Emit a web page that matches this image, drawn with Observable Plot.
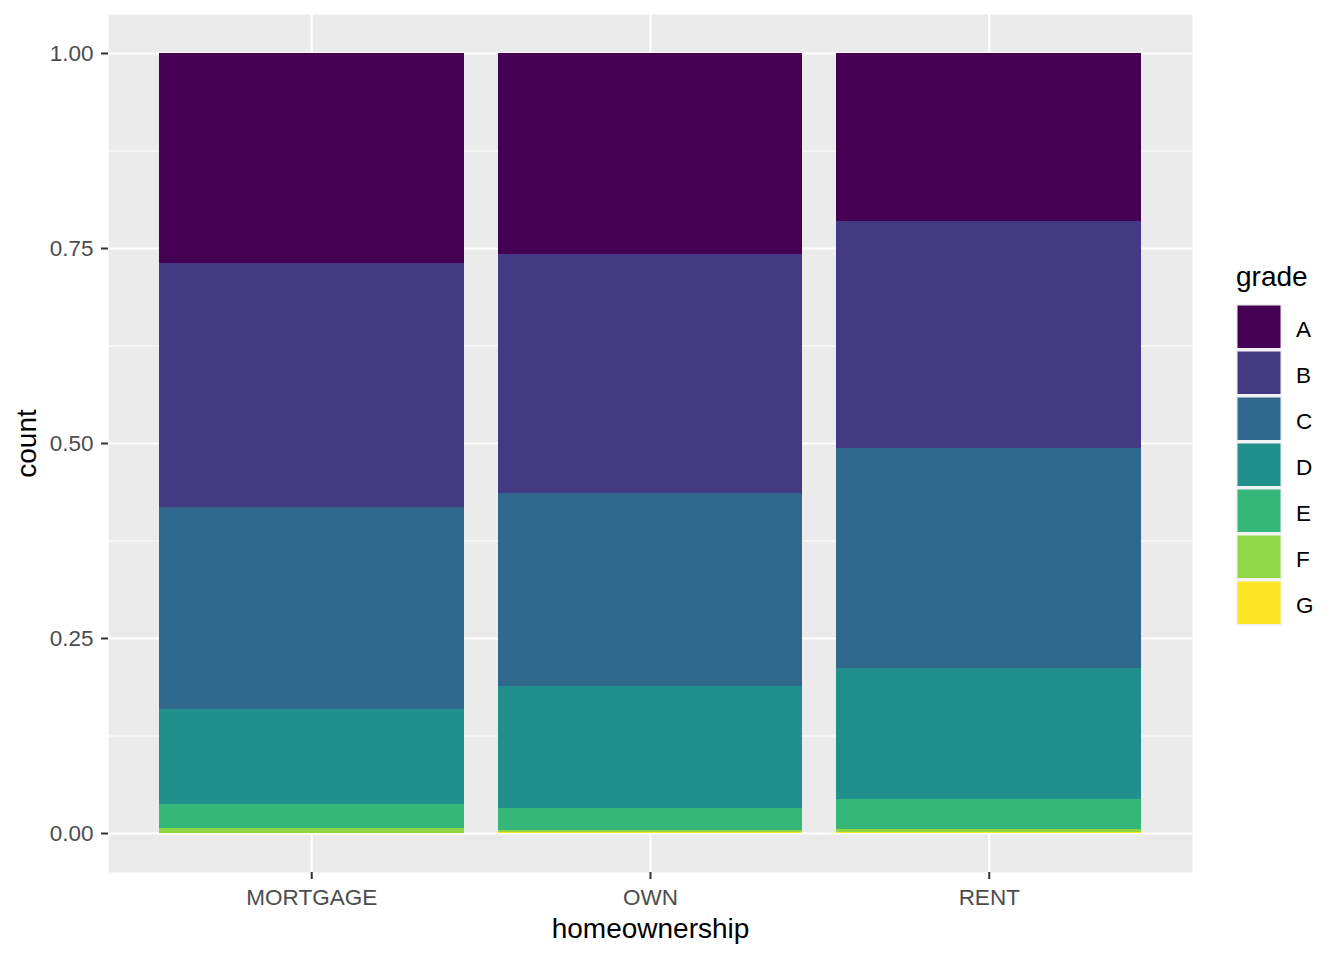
<!DOCTYPE html>
<html>
<head>
<meta charset="utf-8">
<script src="https://cdn.jsdelivr.net/npm/d3@7"></script>
<script src="https://cdn.jsdelivr.net/npm/@observablehq/plot@0.6"></script>
<style>
  html, body { margin: 0; padding: 0; background: #fff; }
  #chart svg { display: block; }
</style>
</head>
<body>
<div id="chart"></div>
<script>
// ---- data (proportions) ----
const homeownership = ["MORTGAGE", "OWN", "RENT"];
const grades = ["A", "B", "C", "D", "E", "F", "G"];
const gradeA = [0.2690, 0.2577, 0.2154];
const gradeB = [0.3130, 0.3060, 0.2910];
const gradeC = [0.2590, 0.2475, 0.2820];
const gradeD = [0.1218, 0.1564, 0.1680];
const gradeE = [0.0308, 0.0282, 0.0385];
const gradeF = [0.0065, 0.0029, 0.0047];
const gradeG = [0.0003, 0.0013, 0.0008];
const yTicks = [0, 0.25, 0.5, 0.75, 1];
const yMinorTicks = [0.125, 0.375, 0.625, 0.875];
const gradeColors = ["#440154", "#443A83", "#31688E", "#21908C", "#35B779", "#8FD744", "#FDE725"];

const seriesByGrade = [gradeA, gradeB, gradeC, gradeD, gradeE, gradeF, gradeG];
const rows = [];
grades.forEach((g, gi) => {
  homeownership.forEach((h, hi) => {
    rows.push({homeownership: h, grade: g, value: seriesByGrade[gi][hi]});
  });
});

const FONT = "'Liberation Sans', Arial, sans-serif";
const TICK_FS = 22.5, TITLE_FS = 28;
const W = 1344, H = 960;
const plot = Plot.plot({
  width: W,
  height: H,
  marginLeft: 108,
  marginRight: 152,
  marginTop: 14,
  marginBottom: 88,
  style: {fontFamily: FONT, fontSize: TICK_FS + "px", background: "#ffffff", overflow: "visible"},
  x: {domain: homeownership, paddingInner: 0.1, paddingOuter: 0.15, round: false, label: null},
  y: {domain: [-0.05, 1.05], label: null},
  color: {domain: grades, range: gradeColors},
  marks: [
    Plot.frame({fill: "#EBEBEB", stroke: null}),
    Plot.gridY(yMinorTicks, {stroke: "#ffffff", strokeOpacity: 1, strokeWidth: 1.1}),
    Plot.gridY(yTicks, {stroke: "#ffffff", strokeOpacity: 1, strokeWidth: 2.1}),
    Plot.gridX({stroke: "#ffffff", strokeOpacity: 1, strokeWidth: 2.1}),
    Plot.barY(rows, Plot.stackY({
      offset: "normalize",
      order: grades.slice().reverse(),
      x: "homeownership",
      y: "value",
      fill: "grade",
      shapeRendering: "crispEdges"
    })),
    Plot.axisY(yTicks, {tickFormat: d3.format(".2f"), tickSize: 7, tickPadding: 8, label: null, stroke: "#333333", strokeWidth: 2, fontSize: TICK_FS}),
    Plot.axisX({tickSize: 7, tickPadding: 10, label: null, stroke: "#333333", strokeWidth: 2, fontSize: TICK_FS}),
    Plot.text(["count"], {frameAnchor: "left", dx: -81, rotate: -90, textAnchor: "middle", fontSize: TITLE_FS, fill: "#000000"}),
    Plot.text(["homeownership"], {frameAnchor: "bottom", dy: 65, textAnchor: "middle", fontSize: TITLE_FS, fill: "#000000"})
  ]
});

document.getElementById("chart").appendChild(plot);

const svg = d3.select(plot.tagName.toLowerCase() === "svg" ? plot : plot.querySelector("svg"));
svg.selectAll('g[aria-label="x-axis tick label"], g[aria-label="y-axis tick label"]').attr("fill", "#4D4D4D");
svg.selectAll('g[aria-label="x-axis tick label"] text, g[aria-label="y-axis tick label"] text').attr("fill", "#4D4D4D");

// ---- legend (built from the colour scale) ----
const colorScale = plot.scale("color");
const lg = svg.append("g").attr("font-family", FONT).attr("text-anchor", "start");
const lx = 1236, ly = 304, key = 46;
lg.append("text").attr("x", lx).attr("y", 286).attr("font-size", TITLE_FS).attr("fill", "#000").text("grade");
lg.append("rect").attr("x", lx).attr("y", ly).attr("width", key).attr("height", key * colorScale.domain.length).attr("fill", "#F2F2F2");
colorScale.domain.forEach((g, i) => {
  lg.append("rect")
    .attr("x", lx + 1.5).attr("y", ly + 1.5 + i * key)
    .attr("width", key - 3).attr("height", key - 3.5)
    .attr("fill", colorScale.range[i]);
  lg.append("text")
    .attr("x", lx + 60).attr("y", ly + i * key + 33)
    .attr("font-size", TICK_FS).attr("fill", "#000").text(g);
});
</script>
</body>
</html>
